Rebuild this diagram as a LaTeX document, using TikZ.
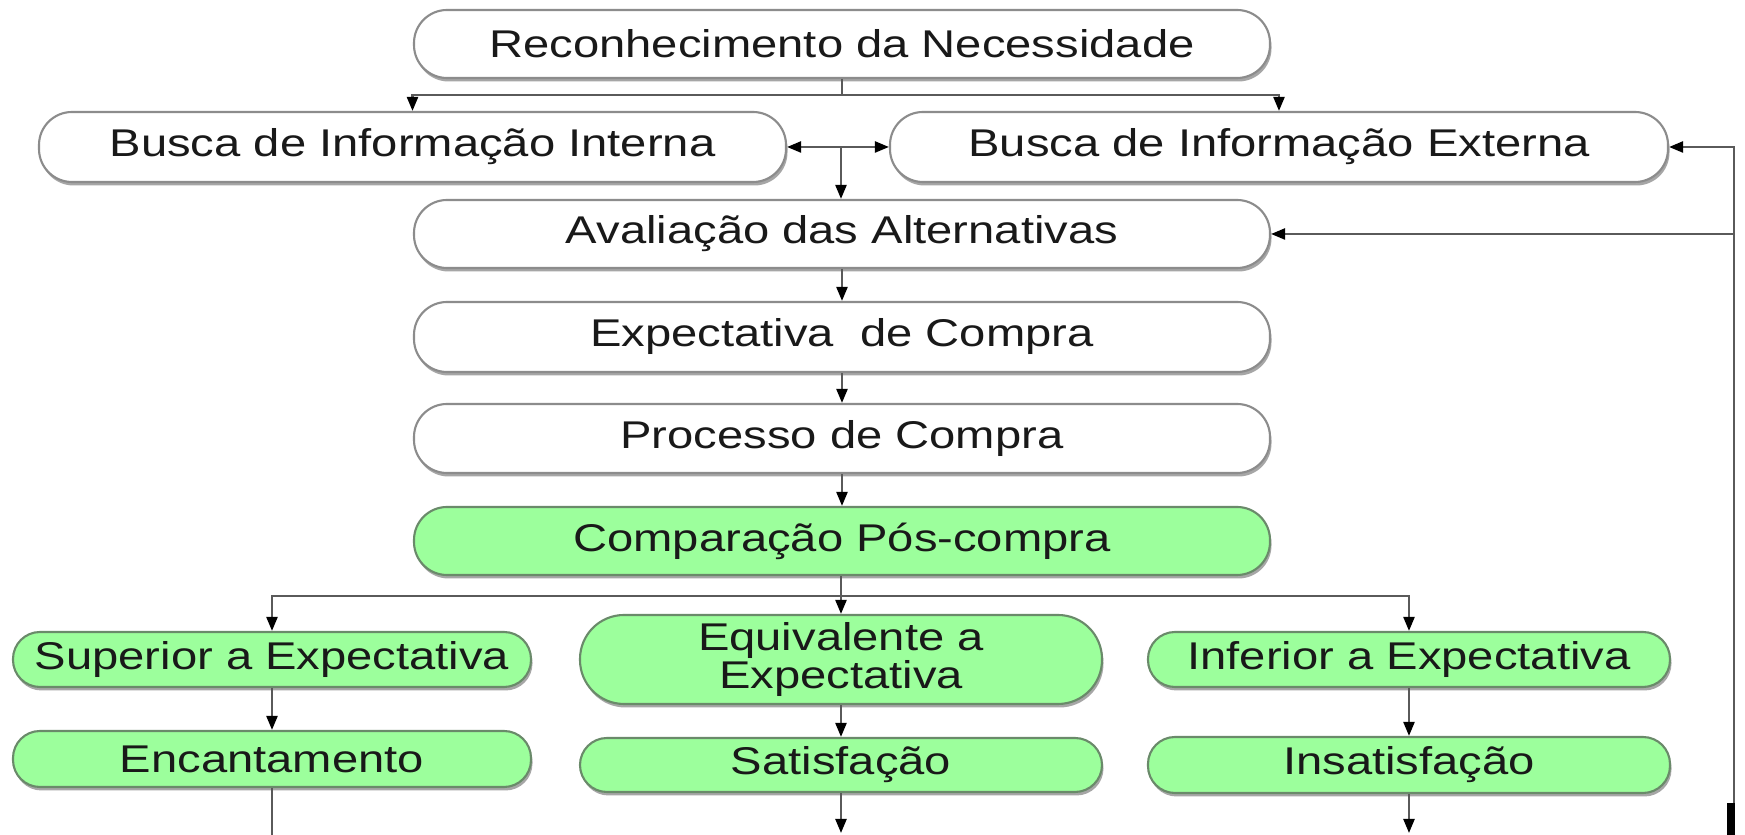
\documentclass[tikz,border=0pt]{standalone}
\usepackage{fontspec}
\setmainfont[FakeStretch=1.22]{Liberation Sans}
\usetikzlibrary{arrows.meta,shadows}
\definecolor{boxgreen}{HTML}{9CFF9C}
\definecolor{greenline}{HTML}{6A8A6A}
\definecolor{wline}{HTML}{8C8C8C}
\definecolor{conn}{HTML}{5A5A5A}
\begin{document}
\begin{tikzpicture}[
  x=1cm,y=1cm,
  every node/.style={font=\fontsize{11}{10.8}\selectfont, text=black!90},
  base/.style={rounded corners=0.33cm, line width=0.6pt, inner sep=0pt,
     drop shadow={shadow xshift=0.015cm, shadow yshift=-0.035cm, fill=black!35, opacity=1}},
  wbox/.style={base, draw=wline, fill=white},
  gbox/.style={base, draw=greenline, fill=boxgreen, rounded corners=0.27cm},
  arr/.style={draw=conn, line width=0.65pt, -{Triangle[length=0.14cm,width=0.11cm,color=black]}},
  ln/.style={draw=conn, line width=0.65pt}
]
\useasboundingbox (0,0) rectangle (17.45,-8.35);
\fill[white] (0,0) rectangle (17.45,-8.35);

\node[wbox, minimum width=8.56cm, minimum height=0.68cm] (rec) at (8.42,-0.44) {Reconhecimento da Necessidade};
\node[wbox, minimum width=7.47cm, minimum height=0.70cm] (bi) at (4.125,-1.47) {Busca de Informação Interna};
\node[wbox, minimum width=7.78cm, minimum height=0.70cm] (be) at (12.79,-1.47) {Busca de Informação Externa};
\node[wbox, minimum width=8.56cm, minimum height=0.68cm] (av) at (8.42,-2.34) {Avaliação das Alternativas};
\node[wbox, minimum width=8.56cm, minimum height=0.70cm] (ex) at (8.42,-3.37) {Expectativa\ \ de Compra};
\node[wbox, minimum width=8.56cm, minimum height=0.69cm] (pr) at (8.42,-4.385) {Processo de Compra};
\node[gbox, rounded corners=0.33cm, minimum width=8.56cm, minimum height=0.68cm] (cp) at (8.42,-5.41) {Comparação Pós-compra};

\node[gbox, minimum width=5.18cm, minimum height=0.55cm] (sp) at (2.72,-6.595) {Superior a Expectativa};
\node[gbox, rounded corners=0.44cm, minimum width=5.22cm, minimum height=0.89cm, align=center] (eq) at (8.41,-6.595) {Equivalente a\\Expectativa};
\node[gbox, minimum width=5.22cm, minimum height=0.55cm] (inf) at (14.09,-6.595) {Inferior a Expectativa};
\node[gbox, minimum width=5.18cm, minimum height=0.56cm] (enc) at (2.72,-7.59) {Encantamento};
\node[gbox, minimum width=5.22cm, minimum height=0.54cm] (sat) at (8.41,-7.65) {Satisfação};
\node[gbox, minimum width=5.22cm, minimum height=0.56cm] (ins) at (14.09,-7.65) {Insatisfação};

% connectors
\coordinate (j1) at (8.42,-0.95);
\draw[ln] (rec.south) -- (j1);
\draw[arr] (j1) -| (bi.north);
\draw[arr] (j1) -| (be.north);

\coordinate (j2) at (8.41,-1.47);
\draw[arr] (j2) -- (bi.east);
\draw[arr] (j2) -- (be.west);
\draw[arr] (j2) -- (j2 |- av.north);

\coordinate (fbtop) at (17.34,-1.47);
\coordinate (fbbot) at (17.34,-8.35);
\draw[arr] (fbbot) -- (fbtop) -- (be.east);
\draw[arr] (fbtop |- av.east) -- (av.east);

\draw[arr] (av.south) -- (ex.north);
\draw[arr] (ex.south) -- (pr.north);
\draw[arr] (pr.south) -- (cp.north);

\coordinate (j3) at (8.41,-5.96);
\draw[arr] (cp.south -| j3) -- (eq.north);
\draw[arr] (j3) -| (sp.north);
\draw[arr] (j3) -| (inf.north);

\draw[arr] (sp.south) -- (enc.north);
\draw[arr] (eq.south) -- (sat.north);
\draw[arr] (inf.south) -- (ins.north);

\coordinate (encend) at (2.72,-8.35);
\coordinate (satend) at (8.41,-8.33);
\coordinate (insend) at (14.09,-8.33);
\draw[ln] (enc.south) -- (encend);
\draw[arr] (sat.south) -- (satend);
\draw[arr] (ins.south) -- (insend);

\fill[black] (17.27,-8.03) rectangle (17.35,-8.35);
\end{tikzpicture}
\end{document}
